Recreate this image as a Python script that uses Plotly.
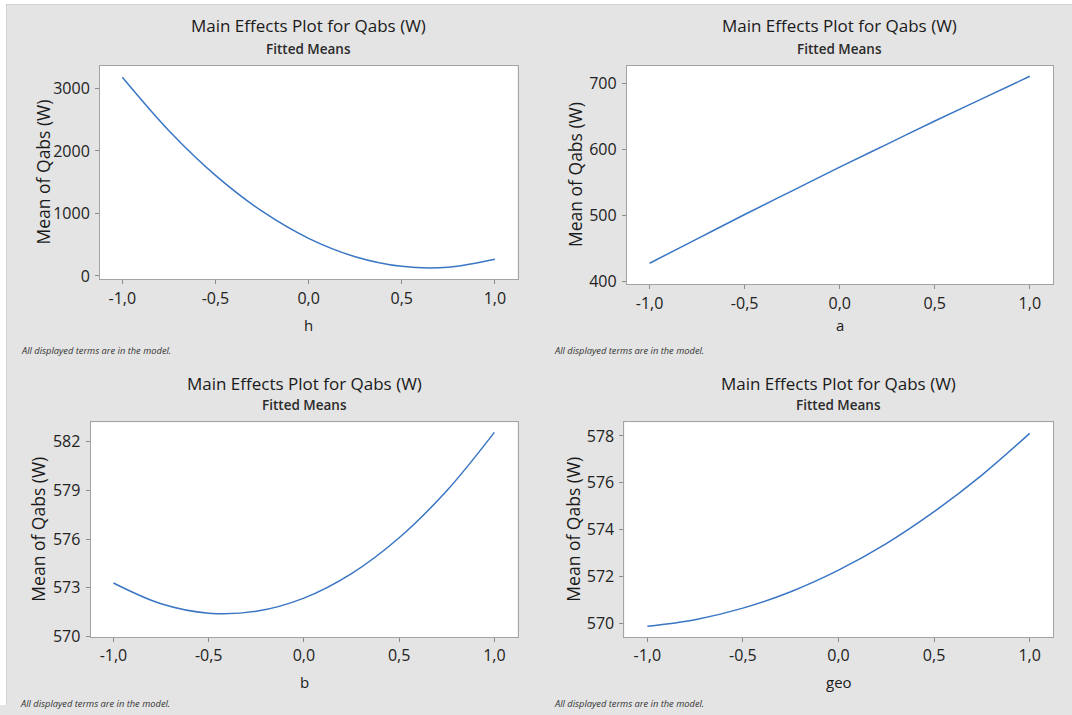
import plotly.graph_objects as go

# ---- data ----
x_levels = [-1.0, -0.75, -0.5, -0.25, 0.0, 0.25, 0.5, 0.75, 1.0]
qabs_h = [3176, 2322, 1609, 1036, 602, 308, 154, 140, 266]
qabs_a = [427, 464, 501, 537, 573, 608, 643, 677, 711]
qabs_b = [573.29, 572.01, 571.43, 571.55, 572.36, 573.87, 576.08, 578.98, 582.58]
qabs_geo = [569.89, 570.17, 570.66, 571.36, 572.28, 573.41, 574.77, 576.33, 578.11]

factor_names = ["h", "a", "b", "geo"]
x_tickvals = [-1.0, -0.5, 0.0, 0.5, 1.0]
x_ticktext = ["-1,0", "-0,5", "0,0", "0,5", "1,0"]
y_ticks_h = [0, 1000, 2000, 3000]
y_ticks_a = [400, 500, 600, 700]
y_ticks_b = [570, 573, 576, 579, 582]
y_ticks_geo = [570, 572, 574, 576, 578]

title_text = "Main Effects Plot for Qabs (W)"
subtitle_text = "Fitted Means"
ytitle_text = "Mean of Qabs (W)"
note_text = "All displayed terms are in the model."

W, H = 1072, 715
SY = 1.0142  # vertical compensation
FONT = "Open Sans"
LINE_COLOR = "#3a76c4"
FRAME = "#a3a3a3"
BG = "#e4e4e4"

def px(x):
    return x / W

def py(y):
    return max(0.0, 1 - (y * SY) / H)

# panel boxes in pixels: (left, right, top, bottom)
panels = [
    dict(box=(100, 517.6, 65.7, 279.3), y=qabs_h, yt=y_ticks_h, yr=[-53, 3362],
         ytx=43, name=factor_names[0], ttl_y=25.5, sub_y=49, xt_y=325, note_y=350, note_x=19),
    dict(box=(626.8, 1053, 65.7, 284.3), y=qabs_a, yt=y_ticks_a, yr=[395, 727],
         ytx=575, name=factor_names[1], ttl_y=25.5, sub_y=49, xt_y=325, note_y=350, note_x=552),
    dict(box=(90.6, 517.6, 422.3, 637), y=qabs_b, yt=y_ticks_b, yr=[569.96, 583.2],
         ytx=38, name=factor_names[2], ttl_y=383, sub_y=405, xt_y=681.5, note_y=703, note_x=18),
    dict(box=(624.4, 1053, 422.3, 637), y=qabs_geo, yt=y_ticks_geo, yr=[569.43, 578.58],
         ytx=573, name=factor_names[3], ttl_y=383, sub_y=405, xt_y=681.5, note_y=703, note_x=552),
]

fig = go.Figure()
annotations = []
for i, p in enumerate(panels):
    n = "" if i == 0 else str(i + 1)
    l, r, t, b = p["box"]
    fig.add_trace(go.Scatter(
        x=x_levels, y=p["y"], mode="lines", line=dict(color=LINE_COLOR, width=1.5, shape="spline"),
        xaxis="x" + n, yaxis="y" + n, showlegend=False, hoverinfo="x+y"))
    fig.update_layout(**{
        "xaxis" + n: dict(
            domain=[px(l), px(r)], anchor="y" + n, range=[-1.12, 1.122],
            tickvals=x_tickvals, ticktext=x_ticktext, ticks="outside", ticklen=4,
            tickcolor="#8c8c8c", showline=True, mirror=True, linecolor=FRAME, linewidth=1,
            showgrid=False, zeroline=False, ticklabelstandoff=0,
            tickfont=dict(family=FONT, size=16, color="#222222")),
        "yaxis" + n: dict(
            domain=[py(b), py(t)], anchor="x" + n, range=p["yr"],
            tickvals=p["yt"], ticks="outside", ticklen=4,
            tickcolor="#8c8c8c", showline=True, mirror=True, linecolor=FRAME, linewidth=1,
            showgrid=False, zeroline=False, ticklabelstandoff=2,
            tickfont=dict(family=FONT, size=16, color="#222222")),
    })
    cx = (l + r) / 2
    annotations += [
        dict(text=title_text, x=px(cx), y=py(p["ttl_y"]), xref="paper", yref="paper",
             showarrow=False, xanchor="center", yanchor="middle",
             font=dict(family=FONT, size=17, color="#1a1a1a")),
        dict(text=subtitle_text, x=px(cx), y=py(p["sub_y"]), xref="paper", yref="paper",
             showarrow=False, xanchor="center", yanchor="middle",
             font=dict(family=FONT, size=13.5, color="#2a2a2a", weight=600)),
        dict(text=ytitle_text, x=px(p["ytx"]), y=py((t + b) / 2), xref="paper", yref="paper",
             showarrow=False, xanchor="center", yanchor="middle", textangle=-90,
             font=dict(family=FONT, size=17.5, color="#1a1a1a")),
        dict(text=p["name"], x=px(cx), y=py(p["xt_y"]), xref="paper", yref="paper",
             showarrow=False, xanchor="center", yanchor="middle",
             font=dict(family=FONT, size=15, color="#1a1a1a")),
        dict(text="<i>" + note_text + "</i>", x=px(p["note_x"]), y=py(p["note_y"]), xref="paper", yref="paper",
             showarrow=False, xanchor="left", yanchor="middle",
             font=dict(family=FONT, size=9.3, color="#333333")),
    ]

shapes = [
    dict(type="rect", xref="paper", yref="paper", x0=0, x1=px(6), y0=0, y1=1,
         fillcolor="#ffffff", line=dict(width=0), layer="above"),
    dict(type="rect", xref="paper", yref="paper", x0=0, x1=1, y0=1 - 4 / H, y1=1,
         fillcolor="#ffffff", line=dict(width=0), layer="above"),
    dict(type="line", xref="paper", yref="paper", x0=px(6.5), x1=px(6.5), y0=0, y1=1 - 4 / H,
         line=dict(color="#d2d2d2", width=1)),
    dict(type="line", xref="paper", yref="paper", x0=px(6), x1=1, y0=1 - 4.5 / H, y1=1 - 4.5 / H,
         line=dict(color="#d2d2d2", width=1)),
]

fig.update_layout(
    width=W, height=H, margin=dict(l=0, r=0, t=0, b=0, pad=0),
    paper_bgcolor=BG, plot_bgcolor="#ffffff",
    annotations=annotations, shapes=shapes, showlegend=False,
    font=dict(family=FONT),
)

fig.write_html(
    "out.html",
    config={"displayModeBar": False, "responsive": False},
    post_script=(
        "document.body.style.margin='0px';"
        "document.documentElement.style.overflow='hidden';"
        "document.body.style.overflow='hidden';"
        "document.body.style.background='#e4e4e4';"
    ),
)
